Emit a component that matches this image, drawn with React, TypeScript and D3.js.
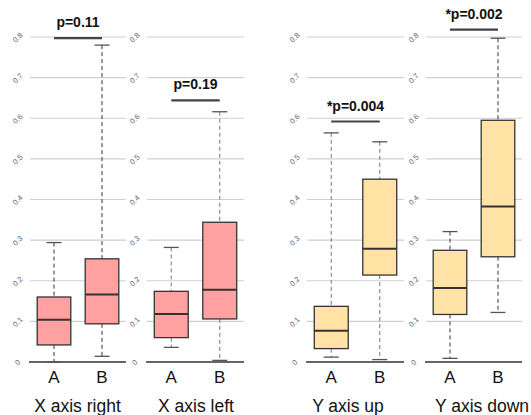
import React from "react";
import * as d3 from "d3";

// Group labels and panel titles
const categories = ["A", "B"];
const panelTitles = ["X axis right", "X axis left", "Y axis up", "Y axis down"];

// Box-plot statistics per panel: [whiskerLow, q1, median, q3, whiskerHigh] for A and B
const statsA = [
  [0.0, 0.042, 0.104, 0.16, 0.294],
  [0.036, 0.06, 0.118, 0.174, 0.282],
  [0.012, 0.033, 0.077, 0.137, 0.564],
  [0.009, 0.117, 0.182, 0.275, 0.321],
];
const statsB = [
  [0.014, 0.094, 0.166, 0.254, 0.78],
  [0.004, 0.106, 0.178, 0.344, 0.616],
  [0.006, 0.214, 0.279, 0.45, 0.542],
  [0.122, 0.259, 0.383, 0.595, 0.797],
];

// Significance annotations
const pLabels = ["p=0.11", "p=0.19", "*p=0.004", "*p=0.002"];
const pBarValues = [0.797, 0.644, 0.592, 0.818];

const yTicks = [0, 0.1, 0.2, 0.3, 0.4, 0.5, 0.6, 0.7, 0.8];
const tickLabels = ["0", "0.1", "0.2", "0.3", "0.4", "0.5", "0.6", "0.7", "0.8"];

// Layout
const W = 531;
const H = 415;
const panelRanges: [number, number][] = [
  [30, 126],
  [147, 244],
  [307, 404],
  [426, 522],
];
const titleCenters = [77.5, 196, 348, 482];
const fills = ["#ffa1a1", "#ffa1a1", "#ffe2a4", "#ffe2a4"];
const whiskerColors = ["#333", "#777", "#777", "#333"];
const FONT = "'Liberation Sans', Arial, Helvetica, sans-serif";

const y = d3.scaleLinear().domain([0, 0.8]).range([362, 37]);

function Panel({ i }: { i: number }) {
  const [x0, x1] = panelRanges[i];
  const x = d3
    .scaleBand<string>()
    .domain(categories)
    .range([x0, x1])
    .paddingInner(0.3)
    .paddingOuter(0.15);
  const bw = x.bandwidth();
  const stats = [statsA[i], statsB[i]];
  const barY = y(pBarValues[i]);
  const cA = (x("A") as number) + bw / 2;
  const cB = (x("B") as number) + bw / 2;
  return (
    <g>
      {yTicks.map((t, k) =>
        t === 0 ? null : (
          <line
            key={"g" + k}
            x1={x0}
            x2={x1}
            y1={y(t)}
            y2={y(t)}
            stroke="#cfcfcf"
            strokeWidth={1.2}
          />
        )
      )}
      {yTicks.map((t, k) => (
        <text
          key={"t" + k}
          transform={`translate(${x0 - 12},${y(t) + 1}) rotate(-45)`}
          textAnchor="middle"
          dominantBaseline="middle"
          fontSize={7.5}
          fill="#5d6478"
          fontFamily={FONT}
        >
          {tickLabels[k]}
        </text>
      ))}
      <line x1={x0 - 1} x2={x1} y1={y(0)} y2={y(0)} stroke="#333" strokeWidth={1.3} />
      {categories.map((c, j) => {
        const [lo, q1, med, q3, hi] = stats[j];
        const cx = (x(c) as number) + bw / 2;
        const left = x(c) as number;
        return (
          <g key={c}>
            <line x1={cx} x2={cx} y1={y(hi)} y2={y(q3)} stroke={whiskerColors[i]} strokeWidth={1} strokeDasharray="4,3" />
            <line x1={cx} x2={cx} y1={y(q1)} y2={y(lo)} stroke={whiskerColors[i]} strokeWidth={1} strokeDasharray="4,3" />
            <line x1={cx - 7.5} x2={cx + 7.5} y1={y(hi)} y2={y(hi)} stroke="#555" strokeWidth={1.3} />
            <line x1={cx - 7.5} x2={cx + 7.5} y1={y(lo)} y2={y(lo)} stroke="#555" strokeWidth={1.3} />
            <rect
              x={left}
              y={y(q3)}
              width={bw}
              height={y(q1) - y(q3)}
              fill={fills[i]}
              stroke="#333"
              strokeWidth={1.3}
            />
            <line x1={left} x2={left + bw} y1={y(med)} y2={y(med)} stroke="#333" strokeWidth={2} />
            <text
              x={cx}
              y={383}
              textAnchor="middle"
              fontSize={17}
              fill="#111"
              fontFamily={FONT}
            >
              {c}
            </text>
          </g>
        );
      })}
      <line x1={cA} x2={cB} y1={barY} y2={barY} stroke="#444" strokeWidth={2.2} />
      <text
        x={(cA + cB) / 2}
        y={barY - 11}
        textAnchor="middle"
        fontSize={14}
        fontWeight="bold"
        fill="#111"
        fontFamily={FONT}
      >
        {pLabels[i]}
      </text>
      <text
        x={titleCenters[i]}
        y={412}
        textAnchor="middle"
        fontSize={17.5}
        fill="#111"
        fontFamily={FONT}
      >
        {panelTitles[i]}
      </text>
    </g>
  );
}

export default function App() {
  return (
    <svg
      width={W}
      height={H}
      style={{ position: "absolute", left: 0, top: 0, background: "#fff" }}
    >
      {panelTitles.map((_, i) => (
        <Panel key={i} i={i} />
      ))}
    </svg>
  );
}
